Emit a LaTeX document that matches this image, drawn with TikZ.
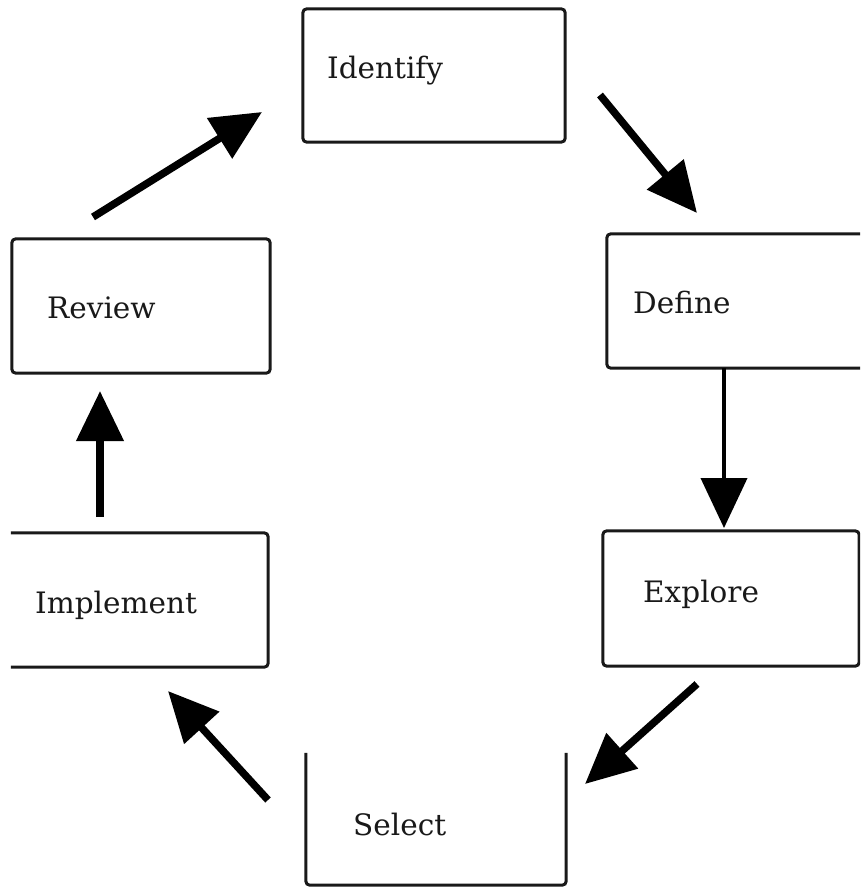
\documentclass[tikz,border=0pt]{standalone}
\usepackage{fontspec}
\setmainfont{DejaVu Serif}
\usetikzlibrary{arrows.meta}
\tikzset{
  frame/.style={draw=none, minimum width=#1, inner sep=0pt},
  edgeline/.style={draw=black!90, line width=3pt, rounded corners=4pt},
  lbl/.style={anchor=base west, inner sep=0pt, font=\fontsize{29.5}{31}\selectfont, text=black!90},
  bigarrow/.style={line width=7.5pt, -{Triangle[length=50pt,width=46pt]}},
  thinarrow/.style={line width=4pt, -{Triangle[length=50pt,width=46pt]}}
}
\begin{document}
\begin{tikzpicture}[x=1pt,y=-1pt]
\useasboundingbox (0,0) rectangle (860,888);
\clip (0,0) rectangle (860,888);
% box frames (named areas)
\node[frame=262pt, minimum height=133pt] (identify) at (434,75.5) {};
\node[frame=270pt, minimum height=134pt] (define) at (742,301) {};
\node[frame=256pt, minimum height=135pt] (explore) at (731,598.5) {};
\node[frame=260pt, minimum height=132pt] (select) at (436,819) {};
\node[frame=257pt, minimum height=134pt] (implement) at (139.5,600) {};
\node[frame=258pt, minimum height=134pt] (review) at (141,306) {};
% box outlines
\draw[edgeline] (identify.north west) rectangle (identify.south east);
\draw[edgeline] (define.north west) rectangle (define.south east);
\draw[edgeline] (explore.north west) rectangle (explore.south east);
\draw[edgeline] (select.north west) -- (select.south west) -- (select.south east) -- (select.north east);
\draw[edgeline] (implement.north west) -- (implement.north east) -- (implement.south east) -- (implement.south west);
\draw[edgeline] (review.north west) rectangle (review.south east);
% labels
\node[lbl] (tIdentify) at (327,79) {Identify};
\node[lbl] (tDefine) at (633,313) {Define};
\node[lbl] (tExplore) at (643,602) {Explore};
\node[lbl] (tSelect) at (353,835) {Select};
\node[lbl] (tImplement) at (35,613) {Implement};
\node[lbl] (tReview) at (47,318) {Review};
% arrow end points
\coordinate (a1s) at (93,217);  \coordinate (a1e) at (262,112);
\coordinate (a2s) at (600,95);  \coordinate (a2e) at (697,213);
\coordinate (a3s) at (724,368); \coordinate (a3e) at (724,528);
\coordinate (a4s) at (697,684); \coordinate (a4e) at (585,784);
\coordinate (a5s) at (268,800); \coordinate (a5e) at (168,691);
\coordinate (a6s) at (100,517); \coordinate (a6e) at (100,391);
\draw[bigarrow] (a1s) -- (a1e);
\draw[bigarrow] (a2s) -- (a2e);
\draw[thinarrow] (a3s) -- (a3e);
\draw[bigarrow] (a4s) -- (a4e);
\draw[bigarrow] (a5s) -- (a5e);
\draw[bigarrow] (a6s) -- (a6e);
\end{tikzpicture}
\end{document}
